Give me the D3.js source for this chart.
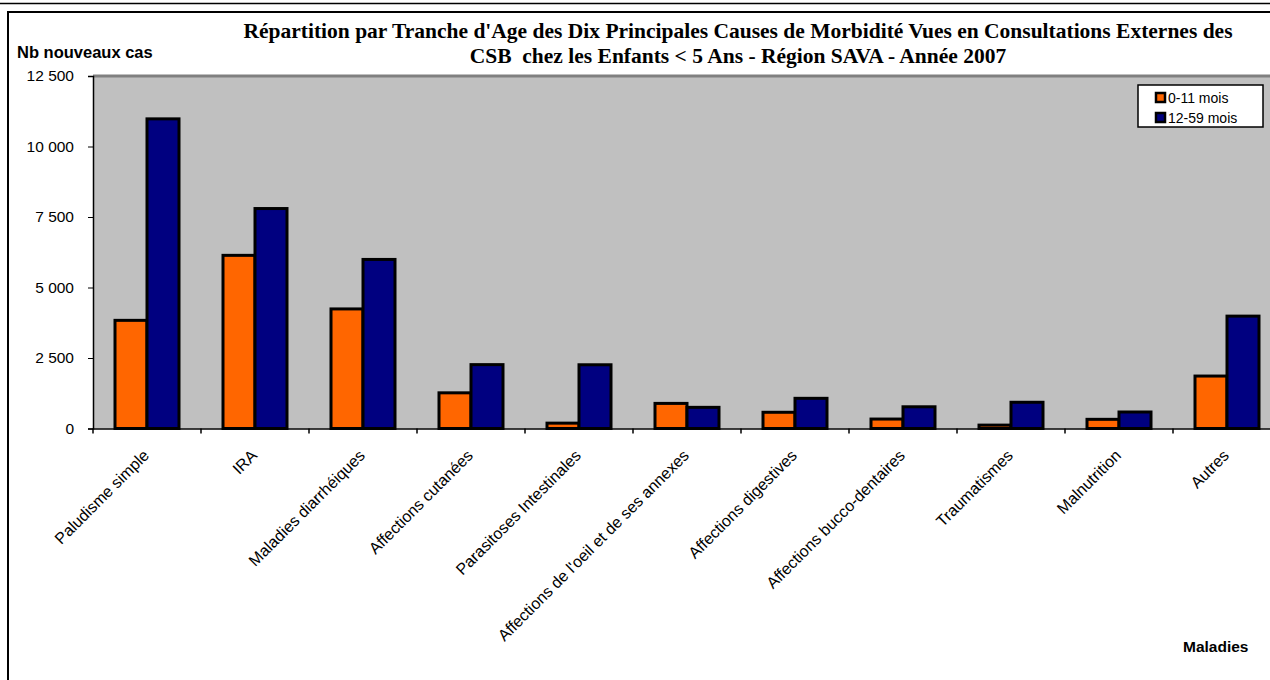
<!DOCTYPE html>
<html><head><meta charset="utf-8">
<script src="https://cdn.jsdelivr.net/npm/d3@7"></script>
<style>body{margin:0;background:#fff}svg{display:block}</style>
</head><body>
<script>
const categories = ["Paludisme simple","IRA","Maladies diarrhéiques","Affections cutanées","Parasitoses Intestinales","Affections de l'oeil et de ses annexes","Affections digestives","Affections bucco-dentaires","Traumatismes","Malnutrition","Autres"];
const seriesNames = ["0-11 mois","12-59 mois"];
const infants = [3835, 6140, 4240, 1265, 190, 890, 575, 335, 120, 325, 1860];
const children = [10980, 7800, 5995, 2265, 2260, 750, 1070, 770, 930, 585, 3985];
const yTicks = [0, 2500, 5000, 7500, 10000, 12500];
const colors = ["#FF6600", "#000080"];
const titleLines = ["Répartition par Tranche d'Age des Dix Principales Causes de Morbidité Vues en Consultations Externes des", "CSB  chez les Enfants < 5 Ans - Région SAVA - Année 2007"];

const W = 1270, H = 680;
const svg = d3.select("body").append("svg").attr("width", W).attr("height", H);

// frames
svg.append("line").attr("x1",0).attr("x2",W).attr("y1",3.5).attr("y2",3.5).attr("stroke","#000").attr("stroke-width",1.5);
svg.append("rect").attr("x",8).attr("y",12).attr("width",1300).attr("height",700).attr("fill","#fff").attr("stroke","#000").attr("stroke-width",2);

const plot = {left: 93, top: 76, bottom: 428.5};
const x0 = d3.scaleBand().domain(categories).range([plot.left, plot.left + 108*categories.length]).padding(0);
const x1 = d3.scaleBand().domain(seriesNames).range([0, x0.bandwidth()]).paddingInner(0).paddingOuter(0.6875);
const y = d3.scaleLinear().domain([0, 12500]).range([plot.bottom, plot.top]);

// plot area
svg.append("rect").attr("x", plot.left).attr("y", plot.top).attr("width", x0.range()[1]-plot.left).attr("height", plot.bottom-plot.top).attr("fill","#C0C0C0");
svg.append("line").attr("x1",plot.left).attr("x2",x0.range()[1]).attr("y1",plot.top).attr("y2",plot.top).attr("stroke","#808080").attr("stroke-width",3);

// bars
const data = categories.map((c,i)=>({c, vals:[infants[i], children[i]]}));
const g = svg.append("g");
data.forEach(d=>{
  d.vals.forEach((v,j)=>{
    g.append("rect")
      .attr("x", x0(d.c)+x1(seriesNames[j]))
      .attr("y", y(v))
      .attr("width", x1.bandwidth())
      .attr("height", plot.bottom - y(v))
      .attr("fill", colors[j]).attr("stroke","#000").attr("stroke-width",3);
  });
});

// y axis
const yAxis = d3.axisLeft(y).tickValues(yTicks).tickSize(5).tickPadding(14)
  .tickFormat(d => d3.format(",")(d).replace(/,/g, " "));
const ya = svg.append("g").attr("transform",`translate(${plot.left},0)`).call(yAxis);
ya.select(".domain").attr("stroke","#000").attr("stroke-width",1.5);
ya.selectAll("text").attr("font-family","Liberation Sans, Arial, sans-serif").attr("font-size",15.5).attr("fill","#000");

// x axis
const xAxis = d3.axisBottom(x0).tickSize(0).tickFormat("");
const xa = svg.append("g").attr("transform",`translate(0,${plot.bottom})`).call(xAxis);
xa.select(".domain").attr("stroke","#000").attr("stroke-width",1.5);
const bounds = categories.map(c=>x0(c));
xa.selectAll(".btick").data(bounds).enter().append("line").attr("class","btick")
  .attr("x1",d=>d).attr("x2",d=>d).attr("y1",0).attr("y2",5).attr("stroke","#000").attr("stroke-width",1.5);

// x labels
svg.append("g").selectAll("text").data(categories).enter().append("text")
  .attr("transform", d => `translate(${x0(d)+x0.bandwidth()/2+3},${plot.bottom+28}) rotate(-45)`)
  .attr("text-anchor","end")
  .attr("font-family","Liberation Sans, Arial, sans-serif").attr("font-size",16)
  .text(d=>d);

// titles
svg.append("g").selectAll("text").data(titleLines).enter().append("text")
  .attr("x",738).attr("y",(d,i)=>38+i*25)
  .attr("text-anchor","middle").style("white-space","pre")
  .attr("font-family","Liberation Serif, Times New Roman, serif").attr("font-weight","bold").attr("font-size",21.5)
  .text(d=>d);

svg.append("text").attr("x",17).attr("y",58).attr("font-family","Liberation Sans, Arial, sans-serif").attr("font-weight","bold").attr("font-size",16.5).text("Nb nouveaux cas");
svg.append("text").attr("x",1183).attr("y",652).attr("font-family","Liberation Sans, Arial, sans-serif").attr("font-weight","bold").attr("font-size",15.5).text("Maladies");

// legend
const lg = svg.append("g").attr("transform","translate(1138,85)");
lg.append("rect").attr("width",125).attr("height",42).attr("fill","#fff").attr("stroke","#000").attr("stroke-width",1.5);
seriesNames.forEach((s,i)=>{
  lg.append("rect").attr("x",18).attr("y",8+i*20).attr("width",9).attr("height",9).attr("fill",colors[i]).attr("stroke","#000").attr("stroke-width",2.5);
  lg.append("text").attr("x",30).attr("y",17.5+i*20).attr("font-family","Liberation Sans, Arial, sans-serif").attr("font-size",14).text(s);
});
</script>
</body></html>
